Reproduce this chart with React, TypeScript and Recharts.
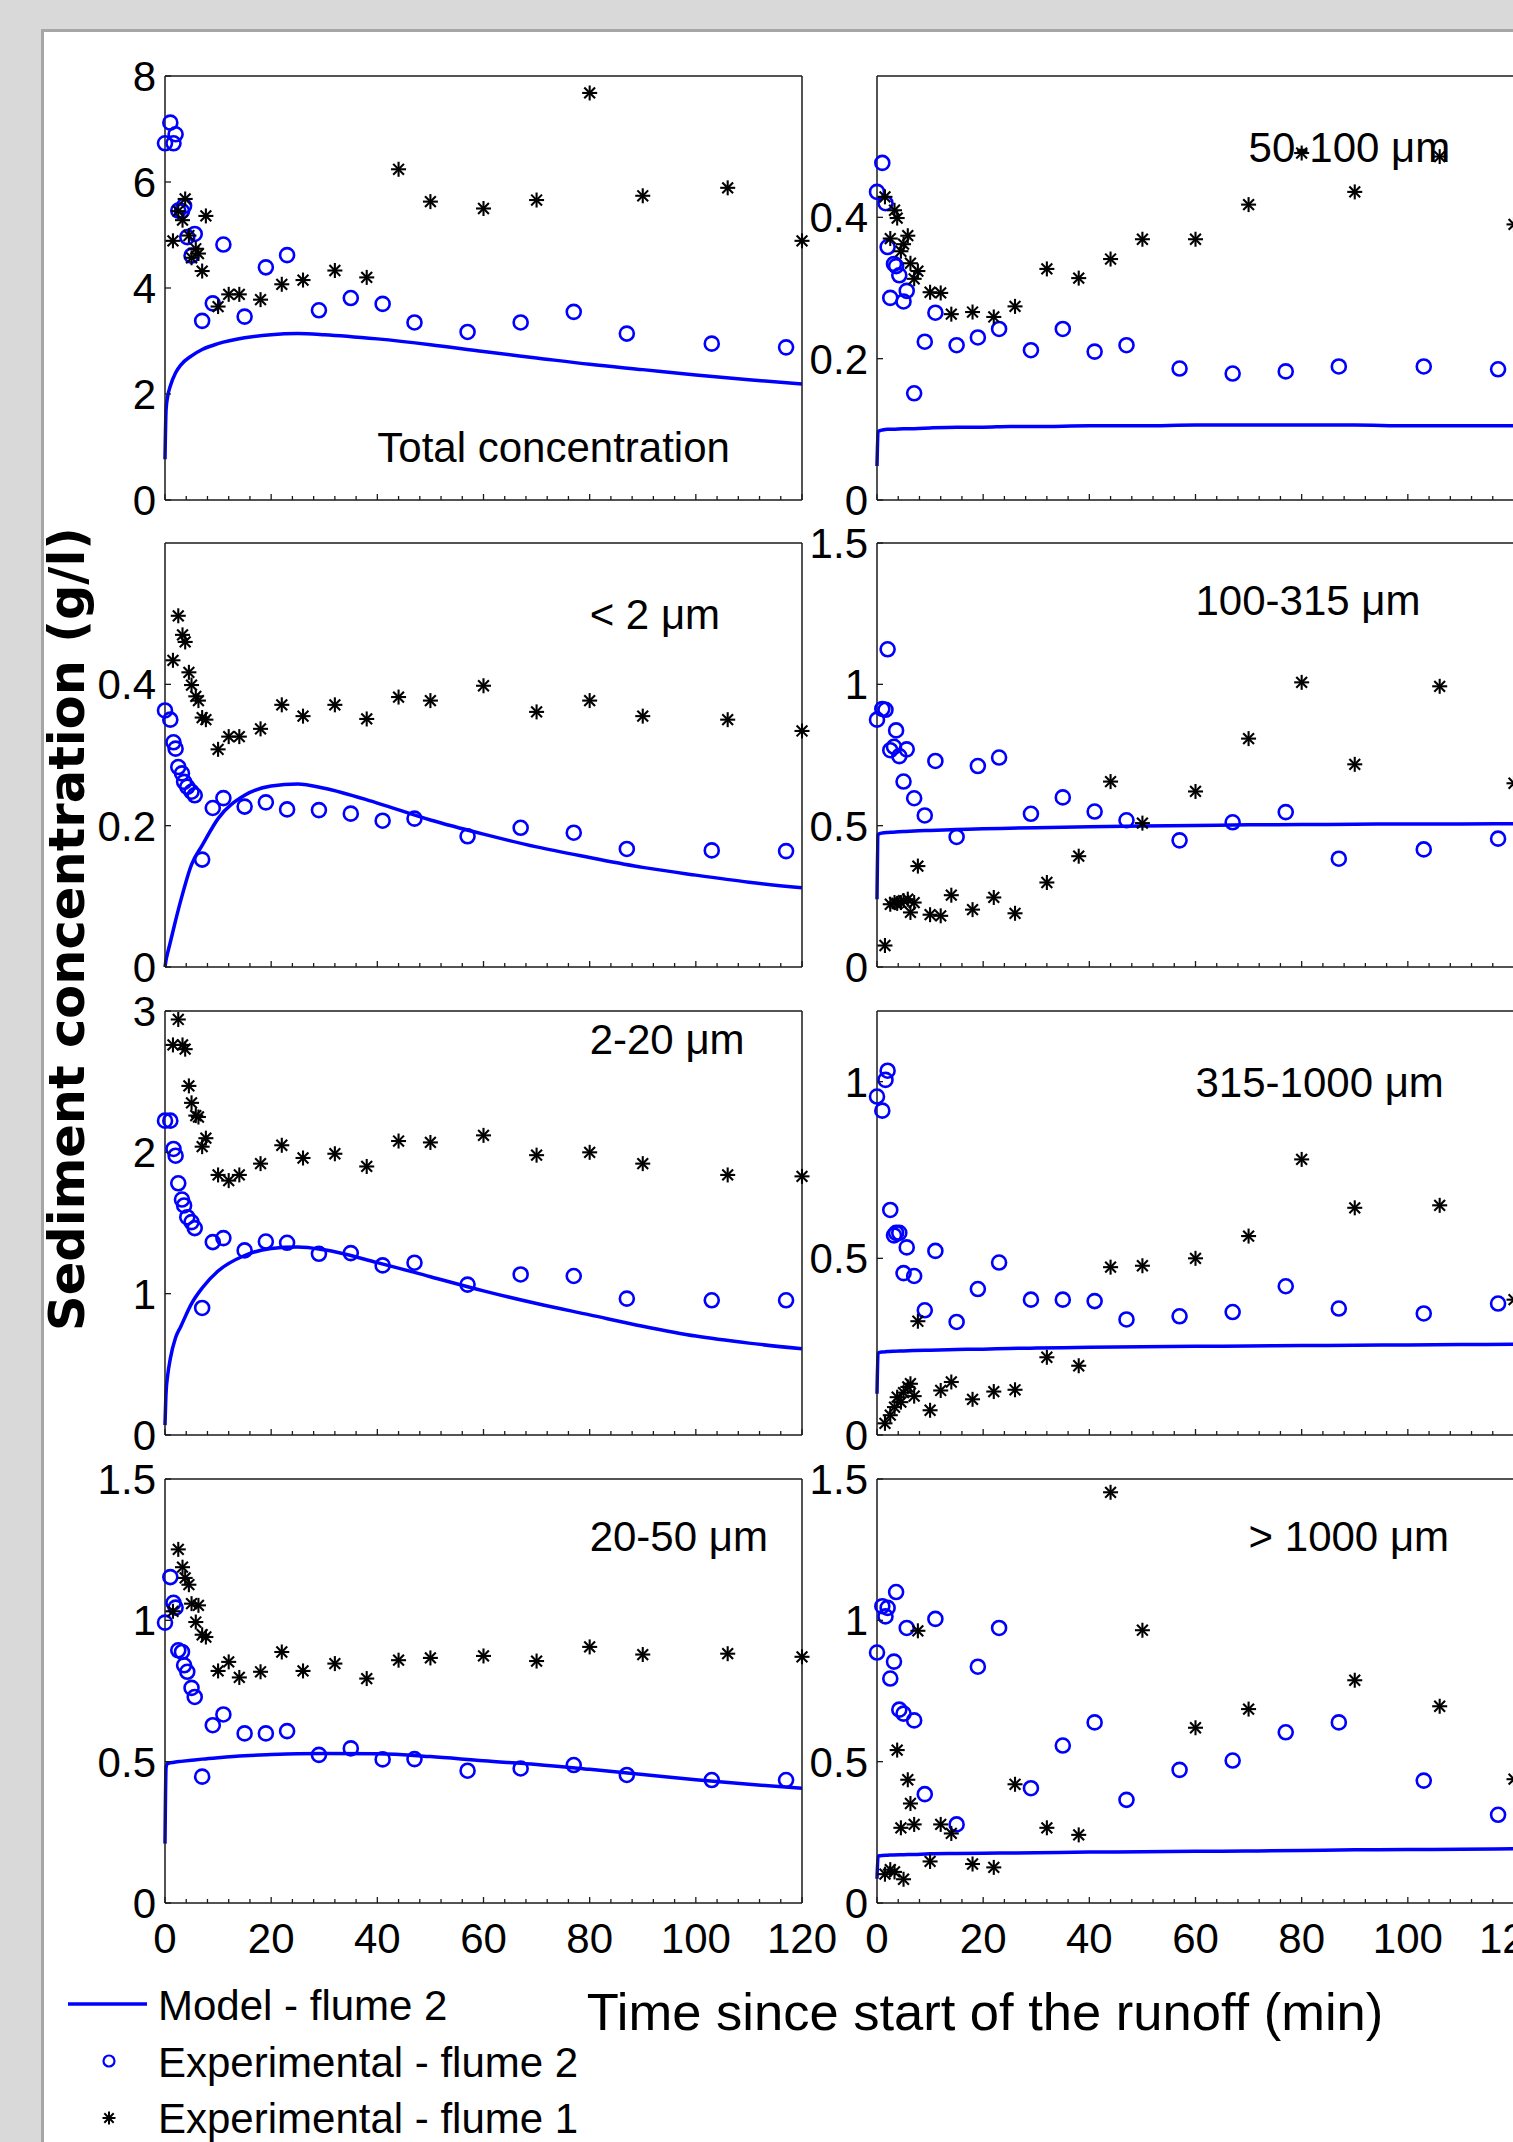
import React from 'react';
import { ComposedChart, XAxis, YAxis, Line, Scatter, ReferenceDot } from 'recharts';

const FONT = '"Liberation Sans", Arial, Helvetica, sans-serif';
const BOLD_FONT = '"DejaVu Sans", Verdana, sans-serif';

// ---- sampling times (min) ----
const timesFlume2 = [0, 1, 1.6, 2, 2.5, 3.2, 3.6, 4.2, 5, 5.6, 7, 9, 11, 15, 19, 23, 29, 35, 41, 47, 57, 67, 77, 87, 103, 117];
const timesFlume1 = [1.5, 2.5, 3.3, 3.8, 4.5, 5, 5.8, 6.3, 7, 7.7, 10, 12, 14, 18, 22, 26, 32, 38, 44, 50, 60, 70, 80, 90, 106, 120];
const modelTimes = [0, 0.2, 0.5, 1, 2, 3, 5, 7, 10, 15, 20, 25, 30, 40, 50, 60, 70, 80, 90, 100, 110, 120];

// ---- tick labels ----
const xTicks = [0, 4, 8, 12, 16, 20, 24, 28, 32, 36, 40, 44, 48, 52, 56, 60, 64, 68, 72, 76, 80, 84, 88, 92, 96, 100, 104, 108, 112, 116, 120];
const yTicksTotal = [0, 2, 4, 6, 8];
const yTicks50_100 = [0, 0.2, 0.4];
const yTicksLt2 = [0, 0.2, 0.4];
const yTicks100_315 = [0, 0.5, 1, 1.5];
const yTicks2_20 = [0, 1, 2, 3];
const yTicks315_1000 = [0, 0.5, 1];
const yTicks20_50 = [0, 0.5, 1, 1.5];
const yTicksGt1000 = [0, 0.5, 1, 1.5];

// ---- Total concentration ----
const totalModel = [0.77, 1.7, 1.95, 2.15, 2.4, 2.55, 2.72, 2.84, 2.95, 3.06, 3.12, 3.14, 3.12, 3.04, 2.93, 2.8, 2.68, 2.56, 2.46, 2.36, 2.27, 2.19];
const totalFlume2 = [6.73, 7.12, 6.73, 6.9, 5.46, 5.45, 5.55, 4.96, 4.61, 5.02, 3.38, 3.71, 4.82, 3.46, 4.39, 4.62, 3.58, 3.81, 3.7, 3.35, 3.17, 3.35, 3.55, 3.14, 2.95, 2.88];
const totalFlume1 = [4.89, 5.45, 5.28, 5.68, 4.99, 4.57, 4.74, 4.65, 4.32, 5.36, 3.65, 3.88, 3.88, 3.78, 4.07, 4.15, 4.33, 4.2, 6.24, 5.63, 5.5, 5.66, 7.68, 5.74, 5.89, 4.89];

// ---- 50-100 um ----
const m50_100Model = [0.048, 0.097, 0.098, 0.099, 0.1, 0.1, 0.101, 0.101, 0.102, 0.103, 0.103, 0.104, 0.104, 0.105, 0.105, 0.106, 0.106, 0.106, 0.106, 0.105, 0.105, 0.105];
const m50_100Flume2 = [0.436, 0.477, 0.42, 0.358, 0.286, 0.334, 0.331, 0.318, 0.281, 0.296, 0.151, 0.224, 0.265, 0.219, 0.23, 0.242, 0.212, 0.242, 0.21, 0.219, 0.186, 0.179, 0.182, 0.189, 0.189, 0.185];
const m50_100Flume1 = [0.429, 0.37, 0.41, 0.399, 0.352, 0.362, 0.374, 0.335, 0.313, 0.324, 0.294, 0.293, 0.263, 0.266, 0.259, 0.274, 0.327, 0.314, 0.341, 0.369, 0.369, 0.418, 0.491, 0.436, 0.486, 0.39];

// ---- < 2 um ----
const lt2Model = [0, 0.01, 0.02, 0.035, 0.066, 0.095, 0.145, 0.172, 0.21, 0.243, 0.256, 0.259, 0.253, 0.232, 0.208, 0.188, 0.17, 0.155, 0.141, 0.13, 0.12, 0.112];
const lt2Flume2 = [0.363, 0.35, 0.318, 0.309, 0.283, 0.274, 0.262, 0.255, 0.248, 0.243, 0.152, 0.225, 0.239, 0.227, 0.233, 0.223, 0.222, 0.217, 0.207, 0.21, 0.185, 0.197, 0.19, 0.167, 0.165, 0.164];
const lt2Flume1 = [0.434, 0.497, 0.47, 0.46, 0.417, 0.399, 0.383, 0.377, 0.353, 0.35, 0.308, 0.326, 0.326, 0.337, 0.371, 0.355, 0.371, 0.351, 0.382, 0.377, 0.398, 0.361, 0.377, 0.355, 0.35, 0.334];

// ---- 100-315 um ----
const m100_315Model = [0.24, 0.468, 0.472, 0.474, 0.476, 0.477, 0.479, 0.481, 0.483, 0.486, 0.489, 0.491, 0.493, 0.496, 0.499, 0.501, 0.503, 0.504, 0.505, 0.506, 0.506, 0.507];
const m100_315Flume2 = [0.875, 0.913, 0.91, 1.124, 0.767, 0.779, 0.837, 0.746, 0.656, 0.77, 0.597, 0.536, 0.729, 0.46, 0.711, 0.741, 0.542, 0.6, 0.55, 0.519, 0.448, 0.512, 0.548, 0.383, 0.416, 0.454];
const m100_315Flume1 = [0.076, 0.222, 0.228, 0.225, 0.228, 0.235, 0.24, 0.193, 0.228, 0.357, 0.185, 0.181, 0.254, 0.203, 0.246, 0.19, 0.299, 0.392, 0.656, 0.509, 0.621, 0.808, 1.007, 0.717, 0.993, 0.65];

// ---- 2-20 um ----
const m2_20Model = [0.07, 0.3, 0.42, 0.54, 0.69, 0.77, 0.93, 1.04, 1.16, 1.27, 1.32, 1.33, 1.31, 1.22, 1.12, 1.02, 0.93, 0.85, 0.77, 0.7, 0.65, 0.61];
const m2_20Flume2 = [2.224, 2.224, 2.024, 1.976, 1.781, 1.666, 1.624, 1.541, 1.506, 1.464, 0.899, 1.365, 1.393, 1.306, 1.369, 1.36, 1.282, 1.287, 1.2, 1.219, 1.064, 1.136, 1.125, 0.965, 0.953, 0.953];
const m2_20Flume1 = [2.76, 2.94, 2.76, 2.73, 2.47, 2.35, 2.26, 2.25, 2.04, 2.1, 1.84, 1.8, 1.84, 1.92, 2.05, 1.96, 1.99, 1.9, 2.08, 2.07, 2.12, 1.98, 2.0, 1.92, 1.84, 1.83];

// ---- 315-1000 um ----
const m315_1000Model = [0.117, 0.232, 0.234, 0.235, 0.236, 0.237, 0.238, 0.239, 0.24, 0.242, 0.243, 0.245, 0.246, 0.248, 0.25, 0.251, 0.252, 0.253, 0.254, 0.255, 0.256, 0.257];
const m315_1000Flume2 = [0.958, 0.918, 1.005, 1.031, 0.637, 0.565, 0.572, 0.572, 0.458, 0.531, 0.45, 0.353, 0.521, 0.32, 0.413, 0.488, 0.383, 0.383, 0.379, 0.327, 0.336, 0.348, 0.421, 0.358, 0.344, 0.372];
const m315_1000Flume1 = [0.033, 0.056, 0.079, 0.107, 0.093, 0.12, 0.136, 0.145, 0.11, 0.322, 0.07, 0.126, 0.15, 0.101, 0.123, 0.128, 0.22, 0.196, 0.475, 0.479, 0.5, 0.563, 0.78, 0.643, 0.65, 0.383];

// ---- 20-50 um ----
const m20_50Model = [0.21, 0.48, 0.494, 0.496, 0.499, 0.501, 0.505, 0.509, 0.514, 0.521, 0.525, 0.528, 0.529, 0.528, 0.518, 0.503, 0.49, 0.473, 0.455, 0.436, 0.42, 0.406];
const m20_50Flume2 = [0.992, 1.153, 1.062, 1.045, 0.894, 0.888, 0.841, 0.818, 0.761, 0.729, 0.447, 0.629, 0.667, 0.6, 0.6, 0.608, 0.524, 0.547, 0.508, 0.509, 0.468, 0.476, 0.488, 0.453, 0.435, 0.435];
const m20_50Flume1 = [1.032, 1.251, 1.188, 1.15, 1.126, 1.059, 0.994, 1.053, 0.949, 0.941, 0.821, 0.853, 0.798, 0.818, 0.888, 0.821, 0.847, 0.794, 0.859, 0.867, 0.874, 0.856, 0.906, 0.879, 0.882, 0.871];

// ---- > 1000 um ----
const gt1000Model = [0.086, 0.166, 0.167, 0.168, 0.169, 0.17, 0.171, 0.172, 0.174, 0.175, 0.176, 0.177, 0.178, 0.18, 0.181, 0.183, 0.184, 0.186, 0.188, 0.189, 0.19, 0.192];
const gt1000Flume2 = [0.886, 1.05, 1.014, 1.044, 0.794, 0.854, 1.1, 0.684, 0.67, 0.973, 0.646, 0.385, 1.005, 0.278, 0.836, 0.973, 0.406, 0.557, 0.639, 0.365, 0.471, 0.504, 0.604, 0.639, 0.433, 0.312];
const gt1000Flume1 = [0.102, 0.118, 0.11, 0.541, 0.266, 0.084, 0.436, 0.352, 0.278, 0.963, 0.147, 0.278, 0.246, 0.138, 0.126, 0.42, 0.266, 0.241, 1.453, 0.965, 0.62, 0.686, null, 0.788, 0.696, 0.438];

// ---- geometry ----
const PLOT_W = 637;
const PLOT_H = 424;
const COL_X = [165, 877];
const ROW_Y = [76, 543, 1011, 1479];
const AX_L = 100;
const AX_R = 60;
const AX_T = 40;
const AX_B = 70;
const CW = AX_L + PLOT_W + AX_R;
const CH = AX_T + PLOT_H + AX_B;
const AXIS_STYLE = { stroke: '#1a1a1a', strokeWidth: 1.5 };

type Pt = { t: number; y: number };
const toPoints = (ts: number[], vs: (number | null)[]): Pt[] =>
  ts.map((t, i) => ({ t, y: vs[i] as number })).filter((p) => p.y !== null && p.y !== undefined);

type PanelDef = {
  label: string;
  lx: number;
  ly: number;
  yMax: number;
  yTicks: number[];
  model: number[];
  flume2: number[];
  flume1: (number | null)[];
  col: number;
  row: number;
};

const panels: PanelDef[] = [
  { label: 'Total concentration', lx: 40, ly: 1.0, yMax: 8, yTicks: yTicksTotal, model: totalModel, flume2: totalFlume2, flume1: totalFlume1, col: 0, row: 0 },
  { label: '50-100 \u03bcm', lx: 70, ly: 0.5, yMax: 0.6, yTicks: yTicks50_100, model: m50_100Model, flume2: m50_100Flume2, flume1: m50_100Flume1, col: 1, row: 0 },
  { label: '< 2 \u03bcm', lx: 80, ly: 0.5, yMax: 0.6, yTicks: yTicksLt2, model: lt2Model, flume2: lt2Flume2, flume1: lt2Flume1, col: 0, row: 1 },
  { label: '100-315 \u03bcm', lx: 60, ly: 1.3, yMax: 1.5, yTicks: yTicks100_315, model: m100_315Model, flume2: m100_315Flume2, flume1: m100_315Flume1, col: 1, row: 1 },
  { label: '2-20 \u03bcm', lx: 80, ly: 2.8, yMax: 3, yTicks: yTicks2_20, model: m2_20Model, flume2: m2_20Flume2, flume1: m2_20Flume1, col: 0, row: 2 },
  { label: '315-1000 \u03bcm', lx: 60, ly: 1.0, yMax: 1.2, yTicks: yTicks315_1000, model: m315_1000Model, flume2: m315_1000Flume2, flume1: m315_1000Flume1, col: 1, row: 2 },
  { label: '20-50 \u03bcm', lx: 80, ly: 1.3, yMax: 1.5, yTicks: yTicks20_50, model: m20_50Model, flume2: m20_50Flume2, flume1: m20_50Flume1, col: 0, row: 3 },
  { label: '> 1000 \u03bcm', lx: 70, ly: 1.3, yMax: 1.5, yTicks: yTicksGt1000, model: gt1000Model, flume2: gt1000Flume2, flume1: gt1000Flume1, col: 1, row: 3 },
];

// ---- marker shapes ----
const CircleMark = (props: any) => {
  const { cx, cy } = props;
  if (cx == null || cy == null) return <g />;
  return <circle cx={cx} cy={cy} r={7} fill="none" stroke="#0000ff" strokeWidth={2.6} />;
};

const StarGlyph = ({ cx, cy, a = 7.5, w = 2.1 }: { cx: number; cy: number; a?: number; w?: number }) => {
  const d = a * 0.72;
  return (
    <g stroke="#000" strokeWidth={w} strokeLinecap="butt">
      <line x1={cx} y1={cy - a} x2={cx} y2={cy + a} />
      <line x1={cx - a} y1={cy} x2={cx + a} y2={cy} />
      <line x1={cx - d} y1={cy - d} x2={cx + d} y2={cy + d} />
      <line x1={cx - d} y1={cy + d} x2={cx + d} y2={cy - d} />
    </g>
  );
};

const StarMark = (props: any) => {
  const { cx, cy } = props;
  if (cx == null || cy == null) return <g />;
  return <StarGlyph cx={cx} cy={cy} />;
};

// ---- ticks ----
const textStyle = { fontFamily: FONT, fontSize: 42, fill: '#000' };

const leftTick = (props: any) => {
  const { x, y, payload } = props;
  return (
    <g>
      <line x1={x} y1={y} x2={x + 6} y2={y} stroke="#1a1a1a" strokeWidth={1.3} />
      <text x={x - 9} y={y + 15} textAnchor="end" {...textStyle}>
        {String(payload.value)}
      </text>
    </g>
  );
};

const rightTick = (props: any) => {
  const { x, y } = props;
  return <line x1={x} y1={y} x2={x - 6} y2={y} stroke="#1a1a1a" strokeWidth={1.3} />;
};

const topTick = (props: any) => {
  const { x, y, payload } = props;
  const major = payload.value % 20 === 0;
  return <line x1={x} y1={y} x2={x} y2={y + (major ? 6 : 4)} stroke="#1a1a1a" strokeWidth={1.3} />;
};

const makeBottomTick = (showLabels: boolean) => (props: any) => {
  const { x, y, payload } = props;
  const v = payload.value;
  const major = v % 20 === 0;
  return (
    <g>
      <line x1={x} y1={y} x2={x} y2={y - (major ? 6 : 4)} stroke="#1a1a1a" strokeWidth={1.3} />
      {showLabels && major ? (
        <text x={x} y={y + 50} textAnchor="middle" {...textStyle}>
          {String(v)}
        </text>
      ) : null}
    </g>
  );
};

function Panel({ def }: { def: PanelDef }) {
  const modelData = toPoints(modelTimes, def.model);
  const f2 = toPoints(timesFlume2, def.flume2);
  const f1 = toPoints(timesFlume1, def.flume1);
  const left = COL_X[def.col] - AX_L;
  const top = ROW_Y[def.row] - AX_T;
  const labelShape = (p: any) => (
    <text x={p.cx} y={p.cy + 15} textAnchor="start" {...textStyle}>
      {def.label}
    </text>
  );
  return (
    <div style={{ position: 'absolute', left, top, width: CW, height: CH }}>
      <ComposedChart width={CW} height={CH} margin={{ top: 0, right: 0, bottom: 0, left: 0 }}>
        <XAxis
          xAxisId="b"
          orientation="bottom"
          type="number"
          dataKey="t"
          domain={[0, 120]}
          ticks={xTicks}
          interval={0}
          height={AX_B}
          tickSize={0}
          tickMargin={0}
          tickLine={false}
          axisLine={AXIS_STYLE}
          tick={makeBottomTick(def.row === 3)}
        />
        <XAxis
          xAxisId="t"
          orientation="top"
          type="number"
          dataKey="t"
          domain={[0, 120]}
          ticks={xTicks}
          interval={0}
          height={AX_T}
          tickSize={0}
          tickMargin={0}
          tickLine={false}
          axisLine={AXIS_STYLE}
          tick={topTick}
        />
        <YAxis
          yAxisId="l"
          orientation="left"
          type="number"
          dataKey="y"
          domain={[0, def.yMax]}
          ticks={def.yTicks}
          interval={0}
          width={AX_L}
          tickSize={0}
          tickMargin={0}
          tickLine={false}
          axisLine={AXIS_STYLE}
          tick={leftTick}
        />
        <YAxis
          yAxisId="r"
          orientation="right"
          type="number"
          dataKey="y"
          domain={[0, def.yMax]}
          ticks={def.yTicks}
          interval={0}
          width={AX_R}
          tickSize={0}
          tickMargin={0}
          tickLine={false}
          axisLine={AXIS_STYLE}
          tick={rightTick}
        />
        <Line
          xAxisId="b"
          yAxisId="l"
          data={modelData}
          dataKey="y"
          type="monotone"
          stroke="#0000ff"
          strokeWidth={3.5}
          dot={false}
          activeDot={false}
          isAnimationActive={false}
        />
        <Scatter xAxisId="b" yAxisId="l" data={f2} dataKey="y" shape={CircleMark} isAnimationActive={false} />
        <Scatter xAxisId="b" yAxisId="l" data={f1} dataKey="y" shape={StarMark} isAnimationActive={false} />
        <ReferenceDot xAxisId="b" yAxisId="l" x={def.lx} y={def.ly} r={0} shape={labelShape} />
      </ComposedChart>
    </div>
  );
}

export default function App() {
  return (
    <div
      style={{
        position: 'absolute',
        left: 0,
        top: 0,
        width: 1513,
        height: 2142,
        overflow: 'hidden',
        background: '#d9d9d9',
        fontFamily: FONT,
      }}
    >
      <div
        style={{
          position: 'absolute',
          left: 41,
          top: 29,
          right: -10,
          bottom: -10,
          background: '#ffffff',
          borderLeft: '3px solid #a6a6a6',
          borderTop: '3px solid #a6a6a6',
        }}
      />
      <svg width={1513} height={2142} style={{ position: 'absolute', left: 0, top: 0 }}>
        <text
          transform="translate(84, 929) rotate(-90)"
          textAnchor="middle"
          fontFamily={BOLD_FONT}
          fontWeight="bold"
          fontSize={49.5}
          fill="#000"
        >
          Sediment concentration (g/l)
        </text>
        <text x={985} y={2030} textAnchor="middle" fontFamily={FONT} fontSize={52.5} fill="#000">
          Time since start of the runoff (min)
        </text>
        {/* legend */}
        <line x1={68} y1={2004} x2={147} y2={2004} stroke="#0000ff" strokeWidth={3.5} />
        <text x={158} y={2020} {...textStyle}>Model - flume 2</text>
        <circle cx={109} cy={2061} r={5.5} fill="none" stroke="#0000ff" strokeWidth={2.2} />
        <text x={158} y={2077} {...textStyle}>Experimental - flume 2</text>
        <StarGlyph cx={109} cy={2118} a={6.5} w={2} />
        <text x={158} y={2133} {...textStyle}>Experimental - flume 1</text>
      </svg>
      {panels.map((p, i) => (
        <Panel key={i} def={p} />
      ))}
    </div>
  );
}
